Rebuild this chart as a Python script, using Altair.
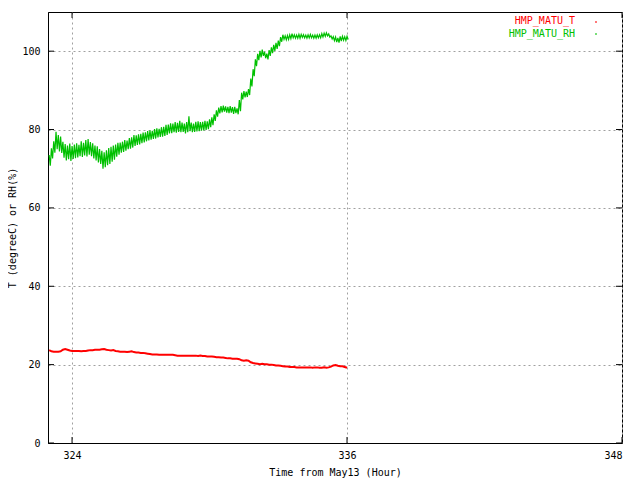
import altair as alt
import pandas as pd
import numpy as np

# ---- data ----
RH_T0 = 323.0
RH_STEP = 0.05
RH = [
    73.5, 70.8, 75.2, 72.6, 77.0, 74.1, 79.4, 75.0, 78.6, 74.4,
    78.2, 74.0, 76.9, 72.8, 76.3, 72.1, 75.9, 72.4, 76.4, 72.0,
    75.8, 72.5, 76.2, 72.7, 76.5, 72.9, 76.1, 73.2, 77.0, 73.0,
    76.6, 73.4, 77.3, 73.1, 77.6, 73.6, 76.8, 73.2, 76.5, 72.6,
    75.9, 72.1, 75.7, 71.6, 75.0, 71.2, 74.6, 70.0, 74.2, 70.4,
    74.7, 70.9, 75.3, 71.2, 75.6, 71.8, 75.9, 72.3, 76.2, 73.1,
    76.6, 73.6,
    76.7, 74.1, 76.9, 74.3, 77.3, 74.6, 77.2, 75.0, 77.8, 75.1,
    78.0, 75.4, 78.6, 75.8, 78.5, 76.1, 78.8, 76.2, 78.9, 76.5,
    79.2, 76.7, 79.3, 77.0, 79.6, 77.2, 79.8, 77.4, 79.7, 77.6,
    80.1, 77.7, 80.3, 78.0, 80.2, 78.1, 80.6, 78.2, 80.7, 78.4,
    81.2, 78.6, 81.3, 79.0, 81.6, 79.1, 81.5, 79.3, 81.9, 79.2,
    81.7, 79.4, 82.2, 79.3, 81.8, 79.4, 81.5, 79.0, 81.9, 79.3,
    83.4, 79.6, 81.8, 79.3, 81.5, 79.4, 82.0, 79.5, 82.1, 79.6,
    81.9, 79.7, 82.0, 79.8, 82.2, 79.9, 82.1, 80.1, 82.6, 80.6,
    83.1, 81.1, 83.9, 82.2, 84.9, 83.3, 85.6, 84.1, 86.0, 84.4,
    86.1, 84.6, 85.9, 84.3, 85.8, 84.2, 86.0, 84.3, 85.7, 84.0,
    85.8, 84.2, 85.4, 83.9, 87.5, 84.7, 89.4, 87.7, 89.8, 88.2,
    89.7, 88.3, 90.3, 88.8, 93.0, 91.0, 95.4, 93.6, 97.9, 96.2,
    99.3, 97.7, 100.1, 98.4, 100.4, 98.8, 99.8, 98.2, 99.4, 97.9,
    100.3, 98.8, 101.0, 99.5, 101.6, 100.1, 102.1, 100.6, 102.7, 101.3,
    103.6, 102.4, 104.2, 103.0, 103.9, 102.9, 104.0, 103.0, 104.2, 103.2,
    104.5, 103.4, 104.2, 103.3, 104.1, 103.3, 104.3, 103.3, 104.3, 103.5,
    104.2, 103.4, 104.1, 103.3, 104.2, 103.4, 104.3, 103.4, 104.1, 103.3,
    104.1, 103.3, 104.2, 103.4, 104.2, 103.4, 104.5, 103.6, 104.6, 103.8,
    104.7, 103.9, 104.4, 103.6, 103.9, 103.1, 103.7, 102.7, 103.6, 102.3,
    103.4, 102.2, 103.8, 102.6, 103.8, 102.8, 103.7, 102.7, 103.8, 103.0,
]

T_T0 = 323.0
T_STEP = 0.1
TEMP = [
    23.7, 23.4, 23.3, 23.3, 23.3, 23.4, 23.8, 24.0, 23.8, 23.6,
    23.5, 23.5, 23.5, 23.5, 23.4, 23.5, 23.5, 23.6, 23.7, 23.7,
    23.8, 23.8, 23.8, 23.9, 24.0, 23.8, 23.7, 23.6, 23.7, 23.5,
    23.4, 23.3, 23.3, 23.3, 23.2, 23.3, 23.4, 23.2, 23.1, 23.1,
    23.0, 23.0, 22.9, 22.8, 22.7, 22.6, 22.6, 22.6, 22.5, 22.5,
    22.5, 22.5, 22.5, 22.5, 22.5, 22.4, 22.3, 22.3, 22.3, 22.3,
    22.3, 22.3, 22.3, 22.3, 22.3, 22.2, 22.3, 22.2, 22.2, 22.1,
    22.1, 22.1, 22.0, 21.9, 21.9, 21.8, 21.8, 21.7, 21.6, 21.6,
    21.5, 21.5, 21.5, 21.4, 21.1, 21.0, 21.1, 21.0, 20.6, 20.4,
    20.3, 20.2, 20.1, 20.2, 20.1, 20.1, 20.0, 20.0, 19.9, 19.8,
    19.8, 19.7, 19.6, 19.5, 19.5, 19.4, 19.4, 19.4, 19.3, 19.3,
    19.3, 19.3, 19.3, 19.3, 19.3, 19.2, 19.3, 19.3, 19.2, 19.2,
    19.3, 19.2, 19.3, 19.5, 19.8, 19.9, 19.7, 19.6, 19.6, 19.4,
    19.2,
]

SERIES = ["HMP_MATU_T", "HMP_MATU_RH"]
COLORS = ["#ff0000", "#00c000"]
X_TICKS = [324, 336, 348]
Y_TICKS = [0, 20, 40, 60, 80, 100]
X_DOMAIN = [322.95, 348]
Y_DOMAIN = [0, 110]

FONT = "DejaVu Sans Mono"

rh_df = pd.DataFrame({"t": RH_T0 + RH_STEP * np.arange(len(RH)), "v": RH,
                      "s": SERIES[1]})
t_df = pd.DataFrame({"t": T_T0 + T_STEP * np.arange(len(TEMP)), "v": TEMP,
                     "s": SERIES[0]})

x_enc = alt.X("t:Q", scale=alt.Scale(domain=X_DOMAIN, nice=False, zero=False),
              axis=alt.Axis(values=X_TICKS, title="Time from May13 (Hour)",
                            grid=True, ticks=False, labelPadding=7,
                            titlePadding=7))
y_enc = alt.Y("v:Q", scale=alt.Scale(domain=Y_DOMAIN, nice=False),
              axis=alt.Axis(values=Y_TICKS, title="T (degreeC) or RH(%)",
                            grid=True, ticks=False, labelPadding=8,
                            titlePadding=4))

rh_line = alt.Chart(rh_df).mark_line(color=COLORS[1], strokeWidth=1.2,
                                     clip=True).encode(x=x_enc, y=y_enc)
t_line = alt.Chart(t_df).mark_line(color=COLORS[0], strokeWidth=2,
                                   clip=True).encode(x="t:Q", y="v:Q")

# inward tick marks (gnuplot style)
yt = pd.DataFrame({"v": Y_TICKS})
xt = pd.DataFrame({"t": X_TICKS})
ytick_l = alt.Chart(yt).mark_rule(color="black").encode(
    y="v:Q", x=alt.value(0), x2=alt.value(6))
ytick_r = alt.Chart(yt).mark_rule(color="black").encode(
    y="v:Q", x=alt.value(568), x2=alt.value(574))
xtick_b = alt.Chart(xt).mark_rule(color="black").encode(
    x="t:Q", y=alt.value(431), y2=alt.value(425))
xtick_t = alt.Chart(xt).mark_rule(color="black").encode(
    x="t:Q", y=alt.value(0), y2=alt.value(6))

leg_df = pd.DataFrame({"s": SERIES})
leg_t = alt.Chart(leg_df).transform_filter(alt.datum.s == SERIES[0]).mark_text(
    align="right", baseline="middle", font=FONT, fontSize=10,
    color=COLORS[0]).encode(text="s:N", x=alt.value(527), y=alt.value(9))
leg_rh = alt.Chart(leg_df).transform_filter(alt.datum.s == SERIES[1]).mark_text(
    align="right", baseline="middle", font=FONT, fontSize=10,
    color=COLORS[1]).encode(text="s:N", x=alt.value(527), y=alt.value(22))
dot_t = alt.Chart(leg_df).transform_filter(alt.datum.s == SERIES[0]).mark_square(
    size=2, color=COLORS[0], opacity=1).encode(x=alt.value(548), y=alt.value(10))
dot_rh = alt.Chart(leg_df).transform_filter(alt.datum.s == SERIES[1]).mark_square(
    size=2, color=COLORS[1], opacity=1).encode(x=alt.value(548), y=alt.value(22))

chart = alt.layer(rh_line, t_line, ytick_l, ytick_r, xtick_b, xtick_t,
                  leg_t, leg_rh, dot_t, dot_rh).properties(
    width=574, height=431,
    autosize=alt.AutoSizeParams(type="none"),
    padding={"left": 40, "top": 4, "right": 10, "bottom": 36},
    background="white",
).configure_view(stroke="black", strokeWidth=1).configure_axis(
    labelFont=FONT, labelFontSize=10, labelColor="black",
    titleFont=FONT, titleFontSize=10, titleFontWeight="normal",
    titleColor="black",
    gridColor="#a0a0a0", gridDash=[2, 3], gridOpacity=1, gridWidth=1,
    domainColor="black", domainWidth=1,
)

chart.save("out.html", embed_options={"renderer": "svg", "actions": False})
